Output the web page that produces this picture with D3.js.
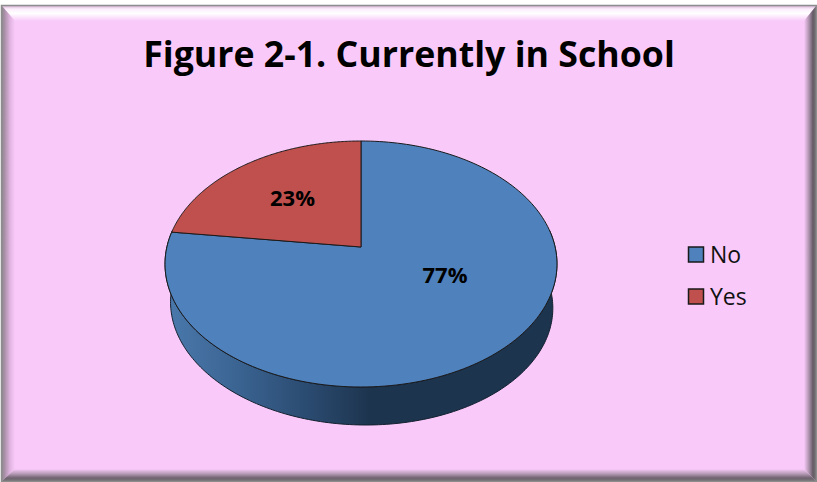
<!DOCTYPE html>
<html><head><meta charset="utf-8">
<script src="https://cdn.jsdelivr.net/npm/d3@7"></script>
<style>html,body{margin:0;padding:0;background:#fff}svg{display:block}text{font-family:"Open Sans",sans-serif}</style>
</head><body><div id="c"></div>
<script>
const categories = ["No", "Yes"];
const seriesValues = [77, 23];
const tickLabels = ["77%", "23%"];
const sliceColors = ["#4f81bd", "#c0504d"];
const titleText = "Figure 2-1. Currently in School";

const W = 817, H = 482;
const svg = d3.select("#c").append("svg").attr("width", W).attr("height", H);
const defs = svg.append("defs");
function grad(id, x1, y1, x2, y2, stops) {
  const g = defs.append("linearGradient").attr("id", id).attr("gradientUnits", "userSpaceOnUse")
    .attr("x1", x1).attr("y1", y1).attr("x2", x2).attr("y2", y2);
  stops.forEach(s => g.append("stop").attr("offset", s[0]).attr("stop-color", s[1]));
}
const pink = "#f9caf9";
const L = 2, T = 6, R = 816, B = 481, bt = 15, bl = 13, br = 12, bb = 12;
svg.append("rect").attr("x", L).attr("y", T).attr("width", R - L).attr("height", B - T).attr("fill", pink);
grad("gT", 0, T, 0, T + bt, [[0, "#d8b8d8"], [0.2, "#fdeefd"], [0.5, "#ffffff"], [1, pink]]);
grad("gL", L, 0, L + bl, 0, [[0, "#8f8a8f"], [0.2, "#a890a8"], [0.6, "#deb2de"], [1, pink]]);
grad("gR", R, 0, R - br, 0, [[0, "#777"], [0.25, "#655a65"], [0.6, "#b094b0"], [1, pink]]);
grad("gB", 0, B, 0, B - bb, [[0, "#777"], [0.25, "#6f626f"], [0.6, "#b69ab6"], [1, pink]]);
const bevel = [
  ["gT", [[L, T], [R, T], [R - br, T + bt], [L + bl, T + bt]]],
  ["gL", [[L, T], [L + bl, T + bt], [L + bl, B - bb], [L, B]]],
  ["gR", [[R, T], [R, B], [R - br, B - bb], [R - br, T + bt]]],
  ["gB", [[L, B], [L + bl, B - bb], [R - br, B - bb], [R, B]]]
];
svg.selectAll("path.bevel").data(bevel).join("path").attr("class", "bevel")
  .attr("d", d => d3.line()(d[1])).attr("fill", d => `url(#${d[0]})`);
svg.append("rect").attr("x", L - .5).attr("y", T - .5).attr("width", R - L + 1).attr("height", B - T + 1)
  .attr("fill", "none").attr("stroke", "#8c8c8c").attr("stroke-width", 1.5);

svg.append("text").attr("x", 409).attr("y", 67).attr("text-anchor", "middle")
  .attr("font-size", 35.7).attr("font-weight", 700).attr("fill", "#000").text(titleText);

// perspective projection of the pie disc
const k = 0.1382, cx = 361, cy = 247, a = 194.1, b = 120.65;
const scaleX = d3.scaleLinear().domain([-1, 1]).range([cx - a, cx + a]);
const scaleY = d3.scaleLinear().domain([-1, 1]).range([cy - b, cy + b]);
const project = (ang, dy = 0, s = 1, skew = 0) => {
  const u = Math.sin(ang), v = -Math.cos(ang), w = 1 - k * v;
  return [cx + (scaleX(u) - cx) * s / w + skew * v, cy + dy + (scaleY(v) - cy) * s / w];
};
const arcPts = (a0, a1, dy, s, skew) => d3.range(0, 181).map(i => project(a0 + (a1 - a0) * i / 180, dy, s, skew));
const pie = d3.pie().sort(null).value(d => d)(seriesValues);

// side wall
const depth = 41.5, sBot = 0.975, skewBot = 5;
const aRight = Math.PI / 2 - Math.asin(k), aLeft = 3 * Math.PI / 2 + Math.asin(k);
grad("gS", 170, 0, 370, 0, [[0, "#4a78ab"], [0.35, "#3a6391"], [0.7, "#2a4a6f"], [1, "#1d344e"]]);
const sidePts = arcPts(aRight, aLeft, 0, 1, 0).concat(arcPts(aLeft, aRight, depth, sBot, skewBot));
svg.append("path").attr("d", d3.line()(sidePts) + "Z")
  .attr("fill", "url(#gS)").attr("stroke", "#13202f").attr("stroke-width", 1);

// top slices
const slicePath = d => d3.line()([[cx, cy]].concat(arcPts(d.startAngle, d.endAngle, 0, 1, 0))) + "Z";
svg.selectAll("path.slice").data(pie).join("path").attr("class", "slice")
  .attr("d", slicePath).attr("fill", (d, i) => sliceColors[i])
  .attr("stroke", "#1a1a1a").attr("stroke-width", 1).attr("stroke-linejoin", "round");

// labels
const labelPos = [[445, 275], [292.5, 198]];
svg.selectAll("text.lab").data(tickLabels).join("text").attr("class", "lab")
  .attr("x", (d, i) => labelPos[i][0]).attr("y", (d, i) => labelPos[i][1] + 7.5)
  .attr("text-anchor", "middle").attr("font-size", 22).attr("font-weight", 700).text(d => d);

// legend
const legY = d3.scalePoint().domain(categories).range([254.5, 296.5]);
const leg = svg.selectAll("g.leg").data(categories).join("g").attr("class", "leg")
  .attr("transform", d => `translate(688,${legY(d)})`);
leg.append("rect").attr("x", 0.5).attr("y", -7.5).attr("width", 15).attr("height", 15)
  .attr("fill", (d, i) => sliceColors[i]).attr("stroke", "#1a1a1a").attr("stroke-width", 1.5);
leg.append("text").attr("x", 22).attr("y", 8).attr("font-size", 23).attr("fill", "#111").text(d => d);
</script></body></html>
